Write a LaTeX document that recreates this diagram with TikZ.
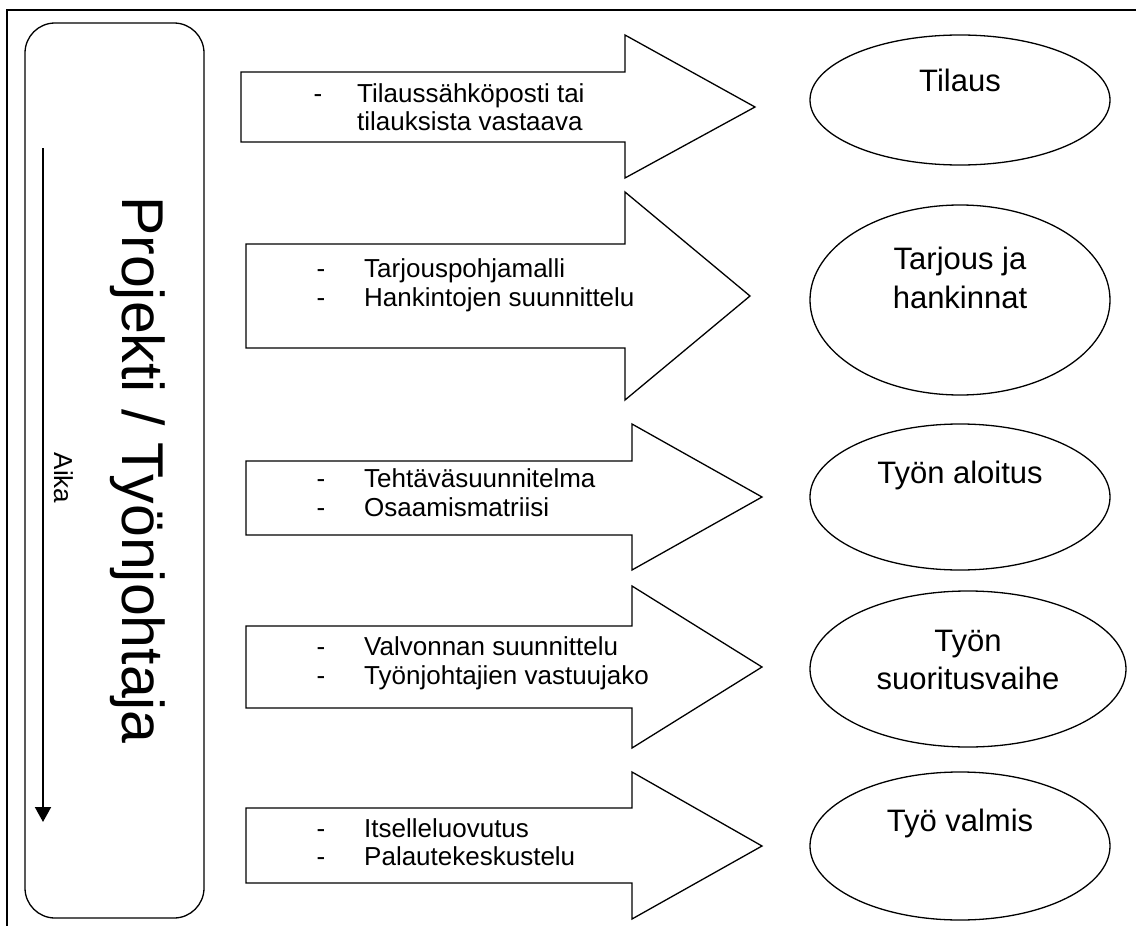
\documentclass[tikz,border=0pt]{standalone}
\usepackage{fontspec}
\setmainfont{Liberation Sans}
\usetikzlibrary{shapes.geometric,arrows.meta}
\begin{document}
\begin{tikzpicture}[x=1pt,y=-1pt,
  arrowshape/.style={draw=black, line width=1.3pt, line join=miter},
  phasebox/.style={ellipse, draw=black, line width=1.3pt, inner sep=0pt},
  etext/.style={font=\fontsize{31}{36}\selectfont, anchor=base, inner sep=0pt},
  atext/.style={font=\fontsize{26}{30}\selectfont, anchor=base west, inner sep=0pt},
  adash/.style={font=\fontsize{26}{30}\selectfont, anchor=base, inner sep=0pt},
]
\useasboundingbox (0,0) rectangle (1136,926);
% outer frame (top and left)
\draw[line width=1.5pt] (7,926) -- (7,10) -- (1136,10);
% left rounded box
\draw[line width=1.3pt, rounded corners=30pt] (25,23) rectangle (204,918);
\node[rotate=-90, anchor=base, inner sep=0pt, font=\fontsize{59}{70}\selectfont] (proj) at (122,470) {Projekti / Työnjohtaja};
\coordinate (aikaTop) at (43,148);
\coordinate (aikaEnd) at (43,822);
\draw[line width=2pt, -{Triangle[width=16pt,length=15pt]}] (aikaTop) -- (aikaEnd);
\node[rotate=-90, anchor=base, inner sep=0pt, font=\fontsize{26}{30}\selectfont] (aika) at (54,478) {Aika};

% arrows
\draw[arrowshape] (241,72) -- (625,72) -- (625,35) -- (755,107) -- (625,178) -- (625,142) -- (241,142) -- cycle;
\draw[arrowshape] (246,244) -- (625,244) -- (625,192) -- (750,296) -- (625,400) -- (625,348) -- (246,348) -- cycle;
\draw[arrowshape] (246,461) -- (632,461) -- (632,424) -- (762,497) -- (632,570) -- (632,535) -- (246,535) -- cycle;
\draw[arrowshape] (246,626) -- (632,626) -- (632,586) -- (762,667) -- (632,748) -- (632,708) -- (246,708) -- cycle;
\draw[arrowshape] (246,808) -- (632,808) -- (632,772) -- (762,846) -- (632,919) -- (632,883) -- (246,883) -- cycle;

% arrow texts
\node[adash] (d1) at (318,102) {-};
\node[atext] (t1a) at (357,102) {Tilaussähköposti tai};
\node[atext] (t1b) at (357,130) {tilauksista vastaava};
\node[adash] (d2a) at (321,277) {-};
\node[adash] (d2b) at (321,306) {-};
\node[atext] (t2a) at (364,277) {Tarjouspohjamalli};
\node[atext] (t2b) at (364,306) {Hankintojen suunnittelu};
\node[adash] (d3a) at (321,487) {-};
\node[adash] (d3b) at (321,516) {-};
\node[atext] (t3a) at (364,487) {Tehtäväsuunnitelma};
\node[atext] (t3b) at (364,516) {Osaamismatriisi};
\node[adash] (d4a) at (321,655) {-};
\node[adash] (d4b) at (321,684) {-};
\node[atext] (t4a) at (364,655) {Valvonnan suunnittelu};
\node[atext] (t4b) at (364,684) {Työnjohtajien vastuujako};
\node[adash] (d5a) at (321,837) {-};
\node[adash] (d5b) at (321,865) {-};
\node[atext] (t5a) at (364,837) {Itselleluovutus};
\node[atext] (t5b) at (364,865) {Palautekeskustelu};

% ellipses
\node[phasebox, minimum width=300pt, minimum height=130pt] (e1) at (960,100) {};
\node[phasebox, minimum width=300pt, minimum height=190pt] (e2) at (960,300) {};
\node[phasebox, minimum width=300pt, minimum height=146pt] (e3) at (960,497) {};
\node[phasebox, minimum width=316pt, minimum height=156pt] (e4) at (968,669) {};
\node[phasebox, minimum width=300pt, minimum height=148pt] (e5) at (960,846) {};
\node[etext] (l1) at (960,91) {Tilaus};
\node[etext] (l2a) at (960,269) {Tarjous ja};
\node[etext] (l2b) at (960,308) {hankinnat};
\node[etext] (l3) at (960,483) {Työn aloitus};
\node[etext] (l4a) at (968,651) {Työn};
\node[etext] (l4b) at (968,689) {suoritusvaihe};
\node[etext] (l5) at (960,831) {Työ valmis};
\end{tikzpicture}
\end{document}
